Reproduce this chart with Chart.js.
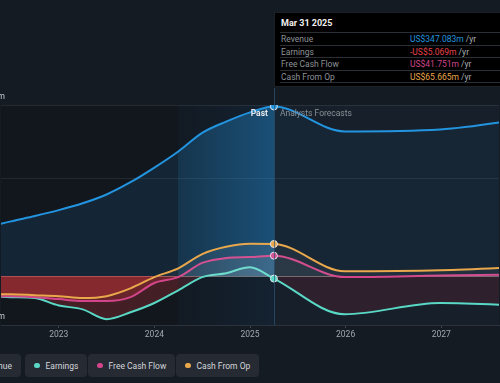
<!DOCTYPE html>
<html>
<head>
<meta charset="utf-8">
<script src="https://cdn.jsdelivr.net/npm/chart.js@4"></script>
<style>
html,body{margin:0;padding:0;background:#151b23;width:500px;height:383px;overflow:hidden;font-family:Roboto,"Noto Sans",sans-serif;}
#wrap{position:absolute;left:0;top:0;width:500px;height:345px;}
.pill{position:absolute;top:354px;height:23px;background:#262b33;border-radius:4px;display:flex;align-items:center;padding:0 9px 0 9px;font-size:8.5px;color:#d3d6da;box-sizing:border-box;white-space:nowrap;}
.dot{width:5.5px;height:5.5px;border-radius:50%;margin-right:6px;}
#tip{position:absolute;left:274px;top:12px;width:240px;height:75px;background:#000;border:1px solid #1c2128;box-sizing:border-box;}
#tip .title{position:absolute;left:6px;top:5px;font-size:9px;font-weight:bold;color:#f0f0f0;}
#tip .row{position:absolute;left:5px;right:0;height:12.5px;border-top:1px solid #2a2f35;font-size:8.5px;line-height:12px;}
#tip .lab{position:absolute;left:1px;color:#8d9298;}
#tip .val{position:absolute;left:130px;}
#tip .unit{color:#a9adb2;}
</style>
</head>
<body>
<div id="wrap"><canvas id="c" width="500" height="345"></canvas></div>
<div id="tip"></div>
<div id="legend"></div>
<script>
// ---- data (US$ millions) ----
const dates = [2022.25,2022.5,2022.75,2023.0,2023.25,2023.5,2023.75,2024.0,2024.25,2024.5,2024.75,2025.0,2025.25,2025.99,2026.99,2027.99];
const revenue      = [100,112,123,135,149,167,192,222,255,293,316,335,347.083,296,300,325];
const earnings     = [-41,-43,-45,-60,-68,-88,-74,-55,-29,-2,6,18,-5.069,-78,-55,-62];
const freeCashFlow = [-41,-41,-43,-47,-51,-51,-43,-14,-2,27,37,39,41.751,-2,1,4];
const cashFromOp   = [-37,-37,-39,-41,-45,-41,-25,-2,16,45,60,66,65.665,10,12,20];
const seriesNames  = ['Revenue','Earnings','Free Cash Flow','Cash From Op'];
const yearTicks    = [2023,2024,2025,2026,2027];
const yGridValues  = [-100,0,200,350];
const yLabelValues = [350,-100];
const currentDate  = 2025.25;
const pastStart    = 2024.25;
const xRange       = [2022.396,2027.604];
const tipTitle     = 'Mar 31 2025';

const colors = ['#2394df','#5ad8c6','#d2458a','#e9a84c'];
const allSeries = [revenue,earnings,freeCashFlow,cashFromOp];

function fmt(v){ const s = 'US$' + Math.abs(v).toFixed(3) + 'm'; return v<0 ? '-'+s : s; }

// tooltip
const tip = document.getElementById('tip');
const curIdx = dates.indexOf(currentDate);
let html = '<div class="title">'+tipTitle+'</div>';
const valColors = ['#2394df','#e8434a','#d2458a','#e9a84c'];
seriesNames.forEach((n,i)=>{
  const v = allSeries[i][curIdx];
  html += '<div class="row" style="top:'+(19+i*12.5)+'px"><span class="lab">'+n+'</span><span class="val"><span style="color:'+(v<0?'#e8434a':valColors[i])+'">'+fmt(v)+'</span><span class="unit"> /yr</span></span></div>';
});
html += '<div class="row" style="top:'+(19+4*12.5)+'px;height:1px"></div>';
tip.innerHTML = html;

// legend
const legend = document.getElementById('legend');
const pillPos = [{right:479},{left:25},{left:88},{left:176}];
seriesNames.forEach((n,i)=>{
  const d = document.createElement('div');
  d.className='pill';
  if(pillPos[i].right!==undefined) d.style.right=pillPos[i].right+'px'; else d.style.left=pillPos[i].left+'px';
  d.innerHTML='<span class="dot" style="background:'+colors[i]+'"></span>'+n;
  legend.appendChild(d);
});

const mk = (arr)=>dates.map((d,i)=>({x:d,y:arr[i]}));

const bgPlugin = {
  id:'bg',
  beforeDraw(chart){
    const {ctx, chartArea:a, scales:{x,y}} = chart;
    const xp = x.getPixelForValue(pastStart), xc = x.getPixelForValue(currentDate);
    ctx.save();
    ctx.fillStyle='#12171e'; ctx.fillRect(a.left,a.top,xp-a.left,a.bottom-a.top);
    const g = ctx.createLinearGradient(xp,0,xc,0);
    g.addColorStop(0,'#121a23'); g.addColorStop(1,'#142231');
    ctx.fillStyle=g; ctx.fillRect(xp,a.top,xc-xp,a.bottom-a.top);
    ctx.fillStyle='#161f2a'; ctx.fillRect(xc,a.top,a.right-xc,a.bottom-a.top);
    ctx.restore();
  },
  afterDatasetsDraw(chart){
    const {ctx, chartArea:a, scales:{x,y}} = chart;
    const xc = x.getPixelForValue(currentDate);
    ctx.save();
    ctx.strokeStyle='rgba(45,85,120,0.7)'; ctx.lineWidth=1;
    ctx.beginPath(); ctx.moveTo(Math.round(xc)+0.5,a.top-17); ctx.lineTo(Math.round(xc)+0.5,a.bottom); ctx.stroke();
    ctx.font='bold 8.5px Roboto, sans-serif'; ctx.textBaseline='middle';
    ctx.fillStyle='#e8eaec'; ctx.textAlign='right';
    ctx.fillText('Past', xc-6, a.top+9);
    ctx.font='8.5px Roboto, sans-serif'; ctx.fillStyle='#8a9097'; ctx.textAlign='left';
    ctx.fillText('Analysts Forecasts', xc+6, a.top+9);
    ctx.font='8.5px Roboto, sans-serif'; ctx.fillStyle='#c4c8cd'; ctx.textAlign='right';
    yLabelValues.forEach(v=>{
      ctx.fillText((v<0?'-':'')+'US$'+Math.abs(v)+'m', 5, y.getPixelForValue(v)-8.5);
    });
    ctx.restore();
  }
};

const cnv = document.getElementById('c');
const chart = new Chart(cnv, {
  type:'line',
  data:{ datasets: allSeries.map((arr,i)=>({
    label: seriesNames[i],
    data: mk(arr),
    borderColor: colors[i],
    borderWidth: 2,
    backgroundColor: 'transparent',
    fill: 'origin',
    cubicInterpolationMode:'monotone',
    pointRadius: (c)=> (c.raw && c.raw.x===currentDate) ? 3.5 : 0,
    pointHoverRadius: 0,
    pointBackgroundColor: colors[i],
    pointBorderColor: '#e4e6e8',
    pointBorderWidth: 1,
    order: 4-i
  })).reverse() },
  options:{
    responsive:false, animation:false,
    layout:{padding:{top:105,left:0,right:0,bottom:0}},
    plugins:{legend:{display:false},tooltip:{enabled:false}},
    events:[],
    scales:{
      x:{type:'linear', min:xRange[0], max:xRange[1],
         afterBuildTicks:(s)=>{ s.ticks = yearTicks.map(v=>({value:v})); },
         afterFit:(s)=>{ s.height=20; },
         border:{display:true,color:'#2b323c',width:1},
         grid:{drawOnChartArea:false, drawTicks:true, tickLength:3, color:'#3a424c'},
         ticks:{color:'#a3a8ae', font:{size:8.5, family:'Roboto'}, padding:2, callback:(v)=>String(v), maxRotation:0}
      },
      y:{min:-100, max:350,
         afterBuildTicks:(s)=>{ s.ticks = yGridValues.map(v=>({value:v})); },
         afterFit:(s)=>{ s.width=0; },
         border:{display:false},
         grid:{drawTicks:false, color:(c)=> c.tick.value===0 ? 'rgba(200,200,200,0.5)' : (c.tick.value===-100 ? 'rgba(0,0,0,0)' : 'rgba(255,255,255,0.08)'), lineWidth:1},
         ticks:{display:false}
      }
    }
  },
  plugins:[bgPlugin]
});

// horizontal gradients for the fills, built from the laid-out x scale
(function(){
  const ctx = cnv.getContext('2d');
  const x = chart.scales.x;
  const a = chart.chartArea;
  const W = a.right - a.left;
  const p = (v)=> Math.min(1,Math.max(0,(x.getPixelForValue(v)-a.left)/W));
  const pp = p(pastStart), pc = p(currentDate);
  function grad(cl, cp0, cp1, cf){
    const g = ctx.createLinearGradient(a.left,0,a.right,0);
    g.addColorStop(0,cl); g.addColorStop(Math.max(0,pp-0.001),cl);
    g.addColorStop(pp,cp0); g.addColorStop(Math.max(pp,pc-0.001),cp1);
    g.addColorStop(pc,cf); g.addColorStop(1,cf);
    return g;
  }
  const revAbove = grad('rgba(35,148,223,0.12)','rgba(35,148,223,0.22)','rgba(35,148,223,0.40)','rgba(35,148,223,0.06)');
  const posAbove = grad('rgba(255,255,255,0.04)','rgba(255,255,255,0.05)','rgba(255,255,255,0.08)','rgba(255,255,255,0.045)');
  const negBelow = grad('rgba(225,55,60,0.24)','rgba(215,55,70,0.2)','rgba(210,50,70,0.16)','rgba(210,40,60,0.13)');
  chart.data.datasets.forEach(ds=>{
    if(ds.label==='Revenue') ds.fill = {target:'origin', above: revAbove, below: revAbove};
    else ds.fill = {target:'origin', above: posAbove, below: negBelow};
  });
  chart.update('none');
})();
</script>
</body>
</html>
